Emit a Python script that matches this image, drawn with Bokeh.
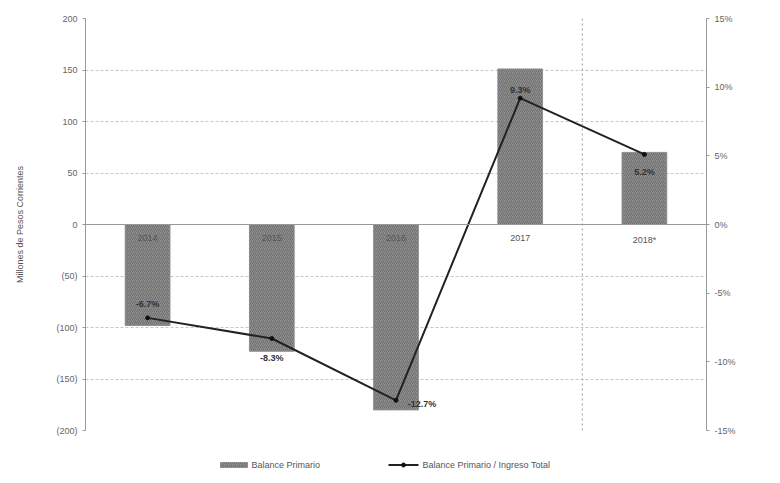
from bokeh.plotting import figure
from bokeh.layouts import column
from bokeh.models import (Range1d, LinearAxis, FixedTicker, ColumnDataSource, Span, Label)
from bokeh.embed import file_html
from bokeh.resources import INLINE
from bokeh.core.properties import value

years = ["2014", "2015", "2016", "2017", "2018*"]
balance = [-98, -123, -180, 151, 70]
ratio = [-6.8, -8.3, -12.8, 9.2, 5.1]
ratio_labels = ["-6.7%", "-8.3%", "-12.7%", "9.3%", "5.2%"]
left_ticks = [-200, -150, -100, -50, 0, 50, 100, 150, 200]
left_tick_labels = ["(200)", "(150)", "(100)", "(50)", "0", "50", "100", "150", "200"]
right_ticks = [-15, -10, -5, 0, 5, 10, 15]
right_tick_labels = ["-15%", "-10%", "-5%", "0%", "5%", "10%", "15%"]
series_names = ["Balance Primario", "Balance Primario / Ingreso Total"]

FONT = "Liberation Sans"
BAR = "#8e8e8e"
xs = list(range(len(years)))

p = figure(width=764, height=440, output_backend="svg", toolbar_location=None,
           x_range=Range1d(-0.5, 4.5), y_range=Range1d(-200, 200),
           min_border_left=85, min_border_right=58, min_border_top=18, min_border_bottom=10)
p.outline_line_color = None
p.background_fill_color = "white"
p.xaxis.visible = False
p.xgrid.grid_line_color = None
p.ygrid.grid_line_color = "#c8c8c8"
p.ygrid.grid_line_dash = "3 2"
p.ygrid.ticker = FixedTicker(ticks=left_ticks)

p.yaxis.ticker = FixedTicker(ticks=left_ticks)
p.yaxis.major_label_overrides = {t: l for t, l in zip(left_ticks, left_tick_labels)}
p.yaxis.axis_label = "Millones de Pesos Corrientes"
p.yaxis.axis_label_text_font = FONT
p.yaxis.axis_label_text_font_size = "9px"
p.yaxis.axis_label_text_font_style = "normal"
p.yaxis.axis_label_text_color = "#555555"
p.yaxis.axis_label_standoff = 28
p.yaxis.major_label_text_font = FONT
p.yaxis.major_label_text_font_size = "9px"
p.yaxis.major_label_text_color = "#666666"
p.yaxis.axis_line_color = "#999999"
p.yaxis.major_tick_line_color = "#999999"
p.yaxis.major_tick_in = 0
p.yaxis.major_tick_out = 3
p.yaxis.minor_tick_line_color = None

p.extra_y_ranges = {"pct": Range1d(-15, 15)}
ax2 = LinearAxis(y_range_name="pct", ticker=FixedTicker(ticks=right_ticks))
ax2.major_label_overrides = {t: l for t, l in zip(right_ticks, right_tick_labels)}
ax2.major_label_text_font = FONT
ax2.major_label_text_font_size = "9px"
ax2.major_label_text_color = "#666666"
ax2.axis_line_color = "#999999"
ax2.major_tick_line_color = "#999999"
ax2.major_tick_in = 0
ax2.major_tick_out = 3
ax2.minor_tick_line_color = None
p.add_layout(ax2, "right")

# zero line
p.add_layout(Span(location=0, dimension="width", line_color="#999999", line_width=1))
# projection separator
p.add_layout(Span(location=3.5, dimension="height", line_color="#999999",
                  line_width=1, line_dash="2 3"))

src = ColumnDataSource(dict(x=xs, bal=balance, pct=ratio, yr=years, lab=ratio_labels))

p.vbar(x="x", top="bal", bottom=0, width=0.36, source=src,
       fill_color=BAR, line_color=BAR,
       hatch_pattern="/", hatch_color="#6f6f6f", hatch_scale=4, hatch_weight=1)

# category labels along the zero line
p.text(x="x", y=0, text="yr", source=src, text_font=value(FONT), text_font_size="9px",
       text_color="#555555", text_align="center", text_baseline="top", y_offset=10)

p.line(x="x", y="pct", y_range_name="pct", source=src, line_color="#222222", line_width=2)
p.scatter(x="x", y="pct", y_range_name="pct", source=src, size=4,
          fill_color="#111111", line_color="#111111")

# data labels for the ratio
offsets = [(0, -14), (0, 20), (26, 4), (0, -8), (0, 18)]
for i, (dx, dy) in enumerate(offsets):
    p.add_layout(Label(x=xs[i], y=ratio[i], y_range_name="pct", text=ratio_labels[i],
                       x_offset=dx, y_offset=-dy, text_font=FONT, text_font_size="9px",
                       text_font_style="bold", text_color="#333333",
                       text_align="center", text_baseline="middle"))

# legend strip (drawn in page-pixel units; its frame is aligned with the chart frame)
lg = figure(width=764, height=35, output_backend="svg", toolbar_location=None,
            x_range=Range1d(85, 706), y_range=Range1d(0, 35), min_border=0)
lg.axis.visible = False
lg.grid.visible = False
lg.outline_line_color = None
lg.quad(left=[220], right=[247], bottom=[8], top=[13], fill_color=BAR, line_color=BAR,
        hatch_pattern="/", hatch_color="#6f6f6f", hatch_scale=4, hatch_weight=1)
lg.line(x=[388, 418], y=[10.5, 10.5], line_color="#222222", line_width=2)
lg.scatter(x=[403], y=[10.5], size=4, fill_color="#111111", line_color="#111111")
lg.text(x=[251, 422], y=[10.5, 10.5], text=series_names, text_font=value(FONT),
        text_font_size="9px", text_color="#555555", text_baseline="middle")

open("out.html", "w").write(file_html(column(p, lg, spacing=0), INLINE))
